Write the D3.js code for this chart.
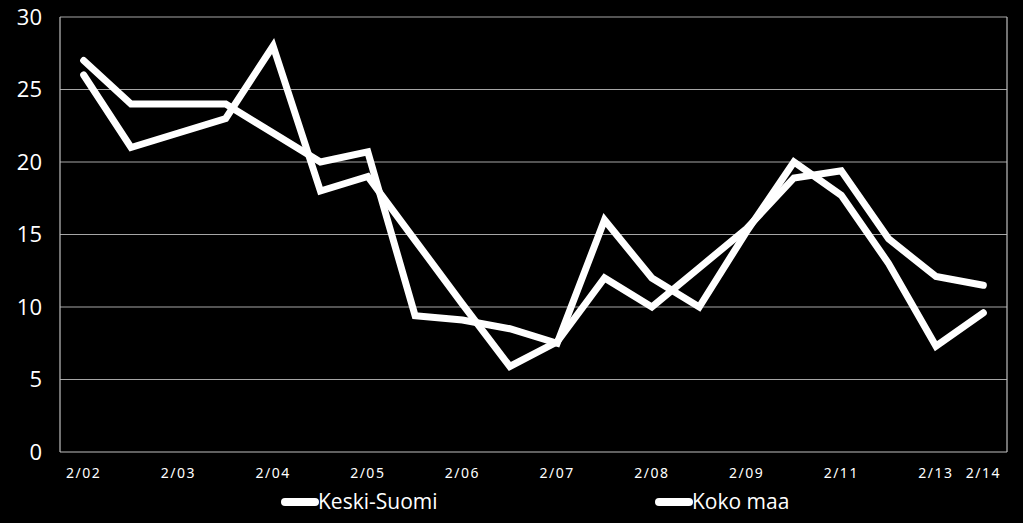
<!DOCTYPE html>
<head>
    <script src="https://d3js.org/d3.v7.min.js"></script>
    <style>
        body {margin: 0; background: black;}
        text {fill: white;}
    </style>
</head>
<body>
</body>
<script>
  const categories = ["2/02", "8/02", "2/03", "8/03", "2/04", "8/04", "2/05", "8/05", "2/06", "8/06",
                      "2/07", "8/07", "2/08", "8/08", "2/09", "2/10", "2/11", "2/12", "2/13", "2/14"];
  const tickLabels = ["2/02", "2/03", "2/04", "2/05", "2/06", "2/07", "2/08", "2/09", "2/11", "2/13", "2/14"];
  const keskiSuomi = [27, 24, 24, 24, 22, 20, 20.7, 9.4, 9.1, 8.5, 7.5, 16, 12, 10, 15.2, 20, 17.7, 13, 7.3, 9.6];
  const kokoMaa = [26, 21, 22, 23, 28, 18, 19, 14.6, 10.2, 5.9, 7.6, 12, 10, 12.7, 15.4, 18.9, 19.4, 14.7, 12.1, 11.5];
  const seriesNames = ["Keski-Suomi", "Koko maa"];
  const yTicks = [0, 5, 10, 15, 20, 25, 30];

  const width = 1023,
        height = 523,
        plotLeft = 60, plotRight = 1007, plotTop = 17, plotBottom = 452;

  const svg = d3.select("body").append("svg")
          .attr("width", width)
          .attr("height", height)
          .style("display", "block")
          .style("background", "black");

  const x = d3.scalePoint()
          .domain(categories)
          .range([plotLeft, plotRight])
          .padding(0.5);

  const y = d3.scaleLinear()
          .domain([0, 30])
          .range([plotBottom, plotTop]);

  // grid
  svg.append("g")
      .selectAll("line")
      .data(yTicks.slice(1))
    .enter().append("line")
      .attr("x1", plotLeft).attr("x2", plotRight)
      .attr("y1", d => y(d)).attr("y2", d => y(d))
      .attr("stroke", "#a6a6a6")
      .attr("stroke-width", 1.2);

  // plot frame: left axis, bottom axis, right edge
  svg.append("line").attr("x1", plotLeft).attr("x2", plotLeft).attr("y1", plotTop).attr("y2", plotBottom)
      .attr("stroke", "#bfbfbf").attr("stroke-width", 1.2);
  svg.append("line").attr("x1", plotRight).attr("x2", plotRight).attr("y1", plotTop).attr("y2", plotBottom)
      .attr("stroke", "#bfbfbf").attr("stroke-width", 1.2);
  svg.append("line").attr("x1", plotLeft).attr("x2", plotRight).attr("y1", plotBottom).attr("y2", plotBottom)
      .attr("stroke", "#bfbfbf").attr("stroke-width", 1.2);

  // y labels
  svg.append("g")
      .selectAll("text")
      .data(yTicks)
    .enter().append("text")
      .attr("x", 42)
      .attr("y", d => y(d))
      .attr("dy", "0.35em")
      .attr("text-anchor", "end")
      .style("font-family", "'Open Sans', sans-serif")
      .style("font-size", "22px")
      .text(d => d);

  // x labels
  svg.append("g")
      .selectAll("text")
      .data(tickLabels)
    .enter().append("text")
      .attr("x", d => x(d))
      .attr("y", 478)
      .attr("text-anchor", "middle")
      .style("font-family", "'Noto Sans', sans-serif")
      .style("font-size", "14px")
      .style("letter-spacing", "1.5px")
      .text(d => d);

  const line = d3.line()
          .x((d, i) => x(categories[i]))
          .y(d => y(d));

  svg.append("g")
      .selectAll("path")
      .data([kokoMaa, keskiSuomi])
    .enter().append("path")
      .attr("d", line)
      .attr("fill", "none")
      .attr("stroke", "white")
      .attr("stroke-width", 7)
      .attr("stroke-linejoin", "miter")
      .attr("stroke-linecap", "round");

  // legend
  const legend = svg.append("g")
      .selectAll("g")
      .data(seriesNames)
    .enter().append("g")
      .attr("transform", (d, i) => `translate(${ [285, 659][i] }, 502)`);

  legend.append("line")
      .attr("x1", 0).attr("x2", 30)
      .attr("stroke", "white")
      .attr("stroke-width", 8)
      .attr("stroke-linecap", "round");

  legend.append("text")
      .attr("x", 33)
      .attr("dy", "0.35em")
      .style("font-family", "'Open Sans', sans-serif")
      .style("font-size", "21px")
      .text(d => d);
</script>
